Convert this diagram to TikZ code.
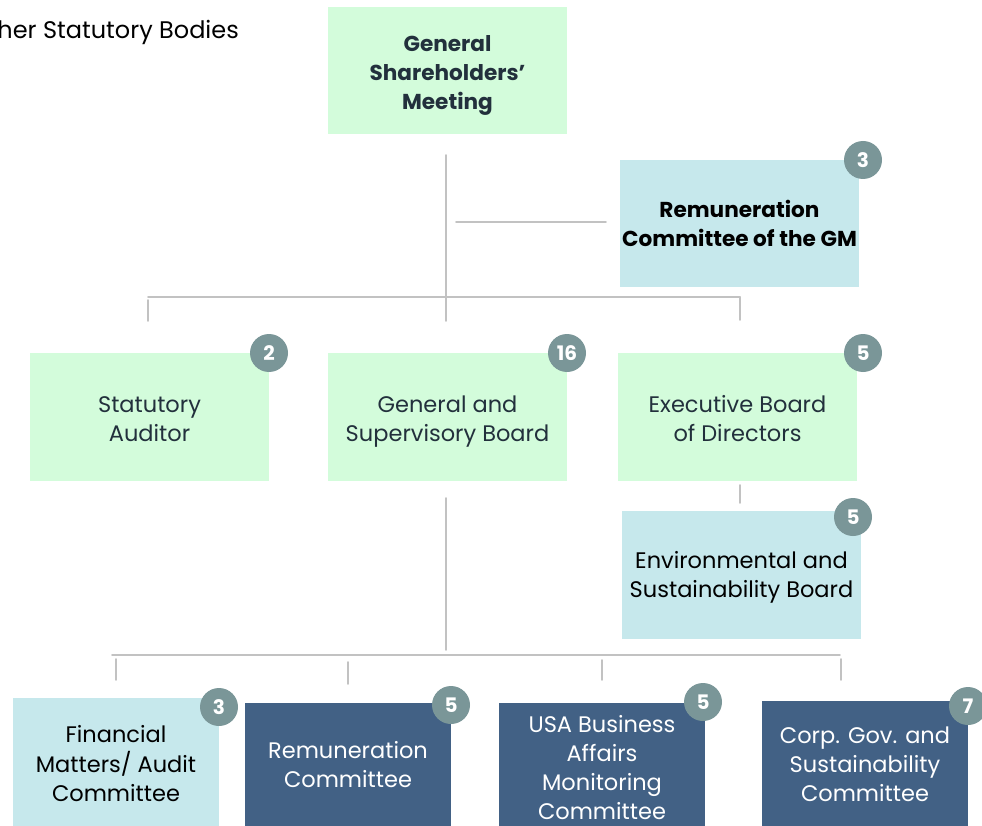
\documentclass[tikz,border=0pt]{standalone}
\usepackage{fontspec}
\setmainfont{Poppins}
\definecolor{mint}{HTML}{D3FCDB}
\definecolor{aqua}{HTML}{C6E8EC}
\definecolor{navy}{HTML}{426185}
\definecolor{badge}{HTML}{7A9698}
\definecolor{ink}{HTML}{22303C}
\definecolor{wire}{HTML}{C2C2C2}
% centred lines of box text, lowered by #1 pt inside the box
\newcommand{\boxlines}[2]{\raisebox{-#1pt}[\height][\depth]{\begin{tabular}{@{}c@{}}#2\end{tabular}}}
\tikzset{
  orgbox/.style={inner sep=0pt, minimum width=239, minimum height=128},
  greenbox/.style={orgbox, fill=mint, text=ink},
  bluebox/.style={orgbox, fill=aqua, text=black},
  navybox/.style={orgbox, fill=navy, text=white, minimum width=206},
  heavy/.style={font=\fontsize{21.6}{29}\selectfont\bfseries},
  countbadge/.style={circle, fill=badge, text=white, minimum size=38, inner sep=0pt,
    font=\fontsize{20}{20}\selectfont\bfseries},
  wireline/.style={draw=wire, line width=1.6, line cap=round}
}
\begin{document}
\begin{tikzpicture}[x=1pt, y=-1pt, font=\fontsize{22.5}{29}\selectfont]
\useasboundingbox (0,0) rectangle (982,826);
\clip (0,0) rectangle (982,826);

% legend line
\node[anchor=east, inner sep=0pt, text=black, font=\fontsize{24}{29}\selectfont] (legend) at (239,32)
  {Other Statutory Bodies};

% top level
\node[greenbox, minimum height=127, heavy] (gsm) at (447.5,70.5)
  {\boxlines{4.5}{General\\Shareholders’\\Meeting}};
\node[bluebox, minimum height=127, heavy] (remgm) at (739.5,223.5)
  {\boxlines{3}{Remuneration\\Committee of the GM}};

% statutory bodies
\node[greenbox] (aud) at (149.5,417) {\boxlines{4.5}{Statutory\\Auditor}};
\node[greenbox] (gsb) at (447.5,417) {\boxlines{4.5}{General and\\Supervisory Board}};
\node[greenbox] (ebd) at (737.5,417) {\boxlines{4.5}{Executive Board\\of Directors}};
\node[bluebox] (env) at (741.5,575) {\boxlines{2}{Environmental and\\Sustainability Board}};

% committees of the supervisory board
\node[bluebox, minimum width=206, minimum height=132] (fin) at (116,764)
  {\boxlines{2}{Financial\\Matters/ Audit\\Committee}};
\node[navybox, minimum height=125] (remc) at (348,765.5)
  {\boxlines{2}{Remuneration\\Committee}};
\node[navybox, minimum height=127] (usa) at (602,766.5)
  {\boxlines{4}{USA Business\\Affairs\\Monitoring\\Committee}};
\node[navybox, minimum height=127] (corp) at (865,764.5)
  {\boxlines{2}{Corp. Gov. and\\Sustainability\\Committee}};

% member counts
\node[countbadge] (b1) at (863,160) {3};
\node[countbadge] (b2) at (269,353) {2};
\node[countbadge] (b3) at (567,353) {16};
\node[countbadge] (b4) at (863,353) {5};
\node[countbadge] (b5) at (853,517) {5};
\node[countbadge] (b6) at (219,707) {3};
\node[countbadge] (b7) at (451,705) {5};
\node[countbadge] (b8) at (703,702) {5};
\node[countbadge] (b9) at (968,706) {7};

% connector points
\coordinate (stemtop) at (446,155);
\coordinate (stembot) at (446,321);
\coordinate (remL) at (456,222);
\coordinate (remR) at (606,222);
\coordinate (busL) at (148,297);
\coordinate (busR) at (740,297);
\coordinate (audT) at (148,300);
\coordinate (audB) at (148,321);
\coordinate (ebdT) at (740,297);
\coordinate (ebdB) at (740,320);
\coordinate (envT) at (740,485);
\coordinate (envB) at (740,503);
\coordinate (gsbT) at (446,498);
\coordinate (gsbB) at (446,650);
\coordinate (bus2L) at (112,655);
\coordinate (bus2R) at (840,655);
\coordinate (finT) at (116,659);
\coordinate (finB) at (116,680);
\coordinate (remcT) at (348,662);
\coordinate (remcB) at (348,684);
\coordinate (usaT) at (602,660);
\coordinate (usaB) at (602,680);
\coordinate (corpT) at (841,659);
\coordinate (corpB) at (841,680);

% connectors
\draw[wireline] (stemtop) -- (stembot);
\draw[wireline] (remL) -- (remR);
\draw[wireline] (busL) -- (busR);
\draw[wireline] (audT) -- (audB);
\draw[wireline] (ebdT) -- (ebdB);
\draw[wireline] (envT) -- (envB);
\draw[wireline] (gsbT) -- (gsbB);
\draw[wireline] (bus2L) -- (bus2R);
\draw[wireline] (finT) -- (finB);
\draw[wireline] (remcT) -- (remcB);
\draw[wireline] (usaT) -- (usaB);
\draw[wireline] (corpT) -- (corpB);
\end{tikzpicture}
\end{document}
